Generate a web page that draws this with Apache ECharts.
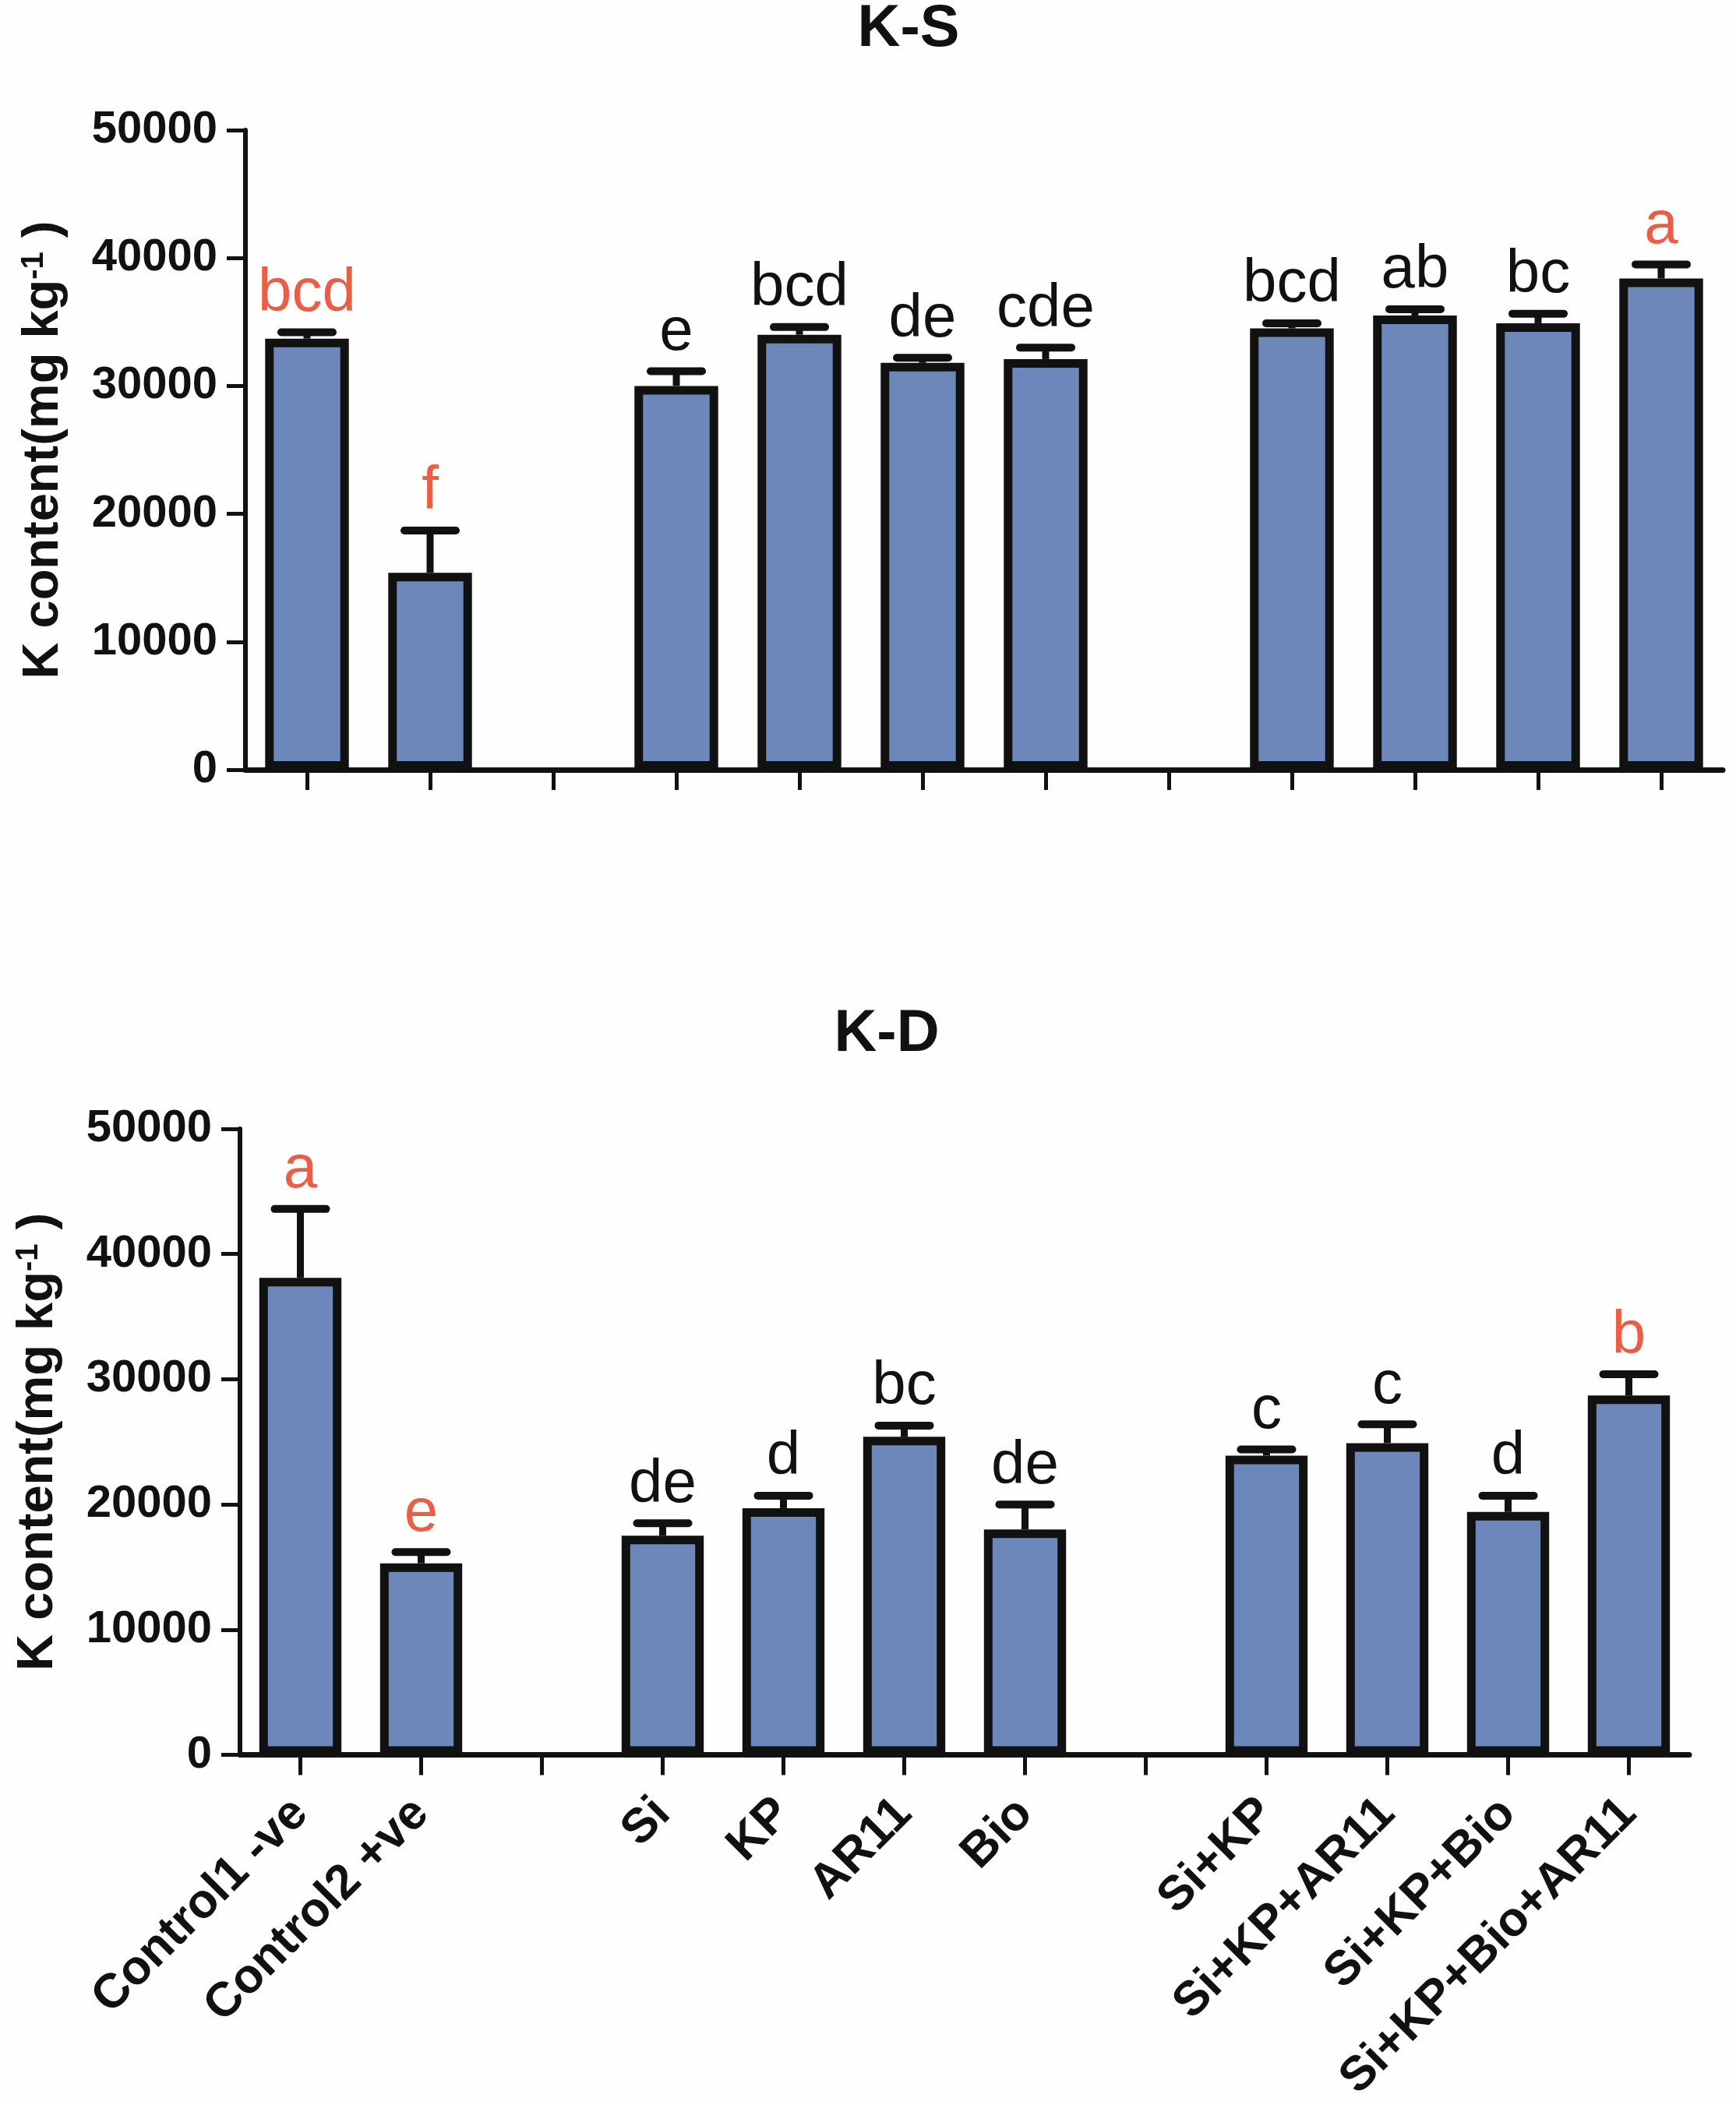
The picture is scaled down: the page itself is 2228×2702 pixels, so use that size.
<!DOCTYPE html>
<html>
<head>
<meta charset="utf-8">
<script src="https://cdn.jsdelivr.net/npm/echarts@6/dist/echarts.min.js"></script>
<style>
  html, body { margin: 0; padding: 0; background: #fefefe; }
  #main { width: 2228px; height: 2702px; }
</style>
</head>
<body>
<div id="main"></div>
<script>
// treatments, with empty slots as spacers between groups
const categories = ['Control1 -ve', 'Control2 +ve', ' ', 'Si', 'KP', 'AR11', 'Bio', '  ',
    'Si+KP', 'Si+KP+AR11', 'Si+KP+Bio', 'Si+KP+Bio+AR11'];

// K-S panel
const ksMean = [33700, 15400, '-', 30000, 34000, 31800, 32100, '-', 34500, 35500, 34900, 38400];
const ksErr = [500, 3300, '-', 1150, 600, 400, 900, '-', 400, 500, 750, 1100];
const ksLetters = ['bcd', 'f', '', 'e', 'bcd', 'de', 'cde', '', 'bcd', 'ab', 'bc', 'a'];
const ksRedIdx = [0, 1, 11];

// K-D panel
const kdMean = [38100, 15300, '-', 17500, 19700, 25400, 18000, '-', 23900, 24900, 19400, 28700];
const kdErr = [5500, 900, '-', 1000, 1000, 900, 2000, '-', 500, 1500, 1300, 1700];
const kdLetters = ['a', 'e', '', 'de', 'd', 'bc', 'de', '', 'c', 'c', 'd', 'b'];
const kdRedIdx = [0, 1, 11];

const yTicks = [0, 10000, 20000, 30000, 40000, 50000];

const FONT = '"Liberation Sans", Arial, sans-serif';
const INK = '#111111';
const BAR = '#6d87ba';
const RED = '#eb5e45';

let chart = echarts.init(document.getElementById('main'), null, { renderer: 'canvas' });

function errData(mean, err) {
    let out = [];
    mean.forEach(function (m, i) {
        if (m !== '-') out.push([i, m, err[i]]);
    });
    return out;
}

function errRender(letters, redIdx) {
    return function (params, api) {
        let i = api.value(0);
        let base = api.coord([i, api.value(1)]);
        let top = api.coord([i, api.value(1) + api.value(2)]);
        let half = 33;
        return {
            type: 'group',
            children: [
                { type: 'line', shape: { x1: base[0], y1: base[1], x2: top[0], y2: top[1] },
                  style: { stroke: INK, lineWidth: 9 } },
                { type: 'line', shape: { x1: top[0] - half, y1: top[1], x2: top[0] + half, y2: top[1] },
                  style: { stroke: INK, lineWidth: 10, lineCap: 'round' } },
                { type: 'text', x: top[0], y: top[1] - 10,
                  style: { text: letters[i], fill: redIdx.indexOf(i) >= 0 ? RED : INK,
                           font: '78px ' + FONT, align: 'center', verticalAlign: 'bottom' } }
            ]
        };
    };
}

function yAxisOf(idx) {
    return {
        type: 'value', gridIndex: idx, min: yTicks[0], max: yTicks[yTicks.length - 1], interval: 10000,
        name: 'K content(mg kg{sup|-1} )',
        nameLocation: 'middle', nameRotate: 90, nameGap: 226,
        nameTextStyle: {
            fontFamily: FONT, fontSize: 65, fontWeight: 'bold', color: INK,
            rich: { sup: { fontFamily: FONT, fontSize: 40, fontWeight: 'bold', color: INK, verticalAlign: 'top' } }
        },
        axisLine: { show: true, lineStyle: { color: INK, width: 6 } },
        axisTick: { show: true, length: 24, lineStyle: { color: INK, width: 5 } },
        axisLabel: {
            fontFamily: FONT, fontSize: 58, fontWeight: 'bold', color: INK, margin: 36,
            formatter: function (v) { return String(v); }
        },
        splitLine: { show: false }
    };
}

function xAxisOf(idx, showLabels) {
    return {
        type: 'category', gridIndex: idx, data: categories, boundaryGap: true,
        axisLine: { show: true, lineStyle: { color: INK, width: 7 } },
        axisTick: { show: true, alignWithLabel: true, length: 26, lineStyle: { color: INK, width: 5 } },
        axisLabel: {
            show: showLabels, interval: 0, rotate: 45, margin: 66,
            fontFamily: FONT, fontSize: 62, fontWeight: 'bold', color: INK
        }
    };
}

function barSeries(idx, mean) {
    return {
        type: 'bar', xAxisIndex: idx, yAxisIndex: idx, data: mean, barWidth: '68%', z: 2,
        itemStyle: { color: BAR, borderColor: INK, borderWidth: 11 },
        animation: false
    };
}

function errSeries(idx, mean, err, letters, redIdx) {
    return {
        type: 'custom', xAxisIndex: idx, yAxisIndex: idx, z: 3,
        data: errData(mean, err),
        renderItem: errRender(letters, redIdx),
        animation: false
    };
}

let option = {
    backgroundColor: '#fefefe',
    animation: false,
    title: [
        { text: 'K-S', left: 1166, top: 0, textAlign: 'center', padding: 0,
          textStyle: { fontFamily: FONT, fontSize: 76, fontWeight: 'bold', color: INK } },
        { text: 'K-D', left: 1138, top: 1290, textAlign: 'center', padding: 0,
          textStyle: { fontFamily: FONT, fontSize: 76, fontWeight: 'bold', color: INK } }
    ],
    grid: [
        { left: 315, top: 167, width: 1896, height: 821 },
        { left: 308, top: 1449, width: 1860, height: 813 }
    ],
    xAxis: [xAxisOf(0, false), xAxisOf(1, true)],
    yAxis: [yAxisOf(0), yAxisOf(1)],
    series: [
        barSeries(0, ksMean),
        errSeries(0, ksMean, ksErr, ksLetters, ksRedIdx),
        barSeries(1, kdMean),
        errSeries(1, kdMean, kdErr, kdLetters, kdRedIdx)
    ]
};

chart.setOption(option, true);
</script>
</body>
</html>
